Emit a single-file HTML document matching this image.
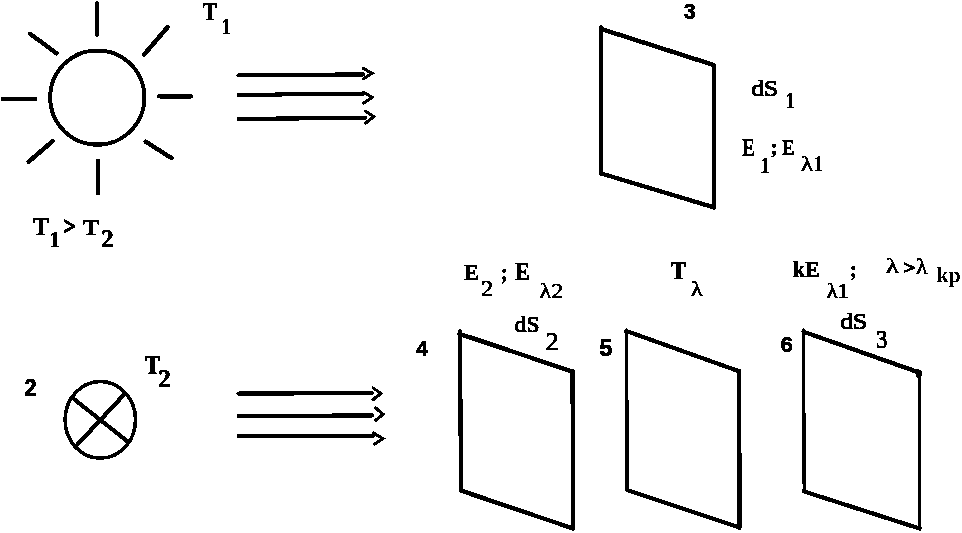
<!DOCTYPE html>
<html><head><meta charset="utf-8"><style>
html,body{margin:0;padding:0;background:#fff;width:962px;height:533px;overflow:hidden}
svg{display:block}
text{font-size:100px;stroke:#000;fill:#000}
.s{font-family:"Liberation Serif",serif;font-weight:bold}
.r{font-family:"Liberation Serif",serif;font-weight:normal}
.a{font-family:"Liberation Sans",sans-serif;font-weight:bold}
.ar{font-family:"Liberation Sans",sans-serif;font-weight:normal}
</style></head><body>
<svg width="962" height="533" viewBox="0 0 962 533">
<defs><filter id="bin" x="0" y="0" width="100%" height="100%" color-interpolation-filters="sRGB">
<feColorMatrix type="matrix" values="0.299 0.587 0.114 0 0  0.299 0.587 0.114 0 0  0.299 0.587 0.114 0 0  0 0 0 1 0"/>
<feComponentTransfer><feFuncR type="discrete" tableValues="0 1"/><feFuncG type="discrete" tableValues="0 1"/><feFuncB type="discrete" tableValues="0 1"/></feComponentTransfer>
</filter></defs>
<rect width="962" height="533" fill="#fff"/>
<g filter="url(#bin)">
<rect width="962" height="533" fill="#fff"/>
<g fill="none" stroke="#000" stroke-linecap="round">
<circle cx="97.3" cy="97.5" r="47.1" stroke-width="4"/>
<line x1="97" y1="3.2" x2="97" y2="34.5" stroke-width="4.5"/>
<line x1="30" y1="33.8" x2="56.5" y2="53.3" stroke-width="4.5"/>
<line x1="144" y1="54.8" x2="167.5" y2="27.2" stroke-width="4.5"/>
<line x1="159.2" y1="96.3" x2="191" y2="96.3" stroke-width="4.5"/>
<line x1="145.6" y1="141.6" x2="171.6" y2="158.2" stroke-width="4.5"/>
<line x1="98" y1="161" x2="98" y2="193" stroke-width="4.5"/>
<line x1="28.6" y1="161.7" x2="52.8" y2="141" stroke-width="4.5"/>
<line x1="2.9" y1="99" x2="34.9" y2="99" stroke-width="4.5"/>
<line x1="238.5" y1="75.4" x2="363" y2="74.4" stroke-width="4.2"/><polyline points="363.5,68.5 372,73.3 363,79" stroke-width="3.1" fill="none" stroke-linejoin="miter"/>
<line x1="238.5" y1="94.9" x2="363" y2="93.7" stroke-width="4.2"/><polyline points="364,92.5 372,97.4 363.5,103.3" stroke-width="3.1" fill="none" stroke-linejoin="miter"/>
<line x1="238.5" y1="119" x2="365" y2="117.7" stroke-width="4.2"/><polyline points="365.5,111.2 373.8,116.7 365.5,123.2" stroke-width="3.1" fill="none" stroke-linejoin="miter"/>
<line x1="238.5" y1="393.7" x2="372" y2="393" stroke-width="4.2"/><polyline points="373,388 381,393.3 373,399.8" stroke-width="3.1" fill="none" stroke-linejoin="miter"/>
<line x1="238.5" y1="416.2" x2="372" y2="415.3" stroke-width="4.2"/><polyline points="375.8,408 383,414.2 375.8,420.2" stroke-width="3.1" fill="none" stroke-linejoin="miter"/>
<line x1="238.5" y1="436" x2="373" y2="436" stroke-width="4.2"/><polyline points="373.5,433 383,438.6 374.5,444.2" stroke-width="3.1" fill="none" stroke-linejoin="miter"/>
<polyline points="600.9,27 601.2,173.5" stroke-width="4.0" fill="none" stroke-linejoin="round"/><polyline points="714,65.5 714,207.3" stroke-width="4.2" fill="none" stroke-linejoin="round"/><polyline points="601,28.8 712.5,64.6 714,66" stroke-width="4.4" fill="none" stroke-linejoin="round"/><polyline points="601.2,173.5 714,207.4" stroke-width="4.4" fill="none" stroke-linejoin="round"/>
<polyline points="459.8,331.3 461.1,490.2" stroke-width="4.3" fill="none" stroke-linejoin="round"/><polyline points="572.5,371.3 573,528" stroke-width="4.2" fill="none" stroke-linejoin="round"/><polyline points="459.5,333.8 572.5,371.6" stroke-width="4.4" fill="none" stroke-linejoin="round"/><polyline points="461.1,490.6 573,528.5" stroke-width="4.4" fill="none" stroke-linejoin="round"/>
<polyline points="626.4,330 627.1,490" stroke-width="3.6" fill="none" stroke-linejoin="round"/><polyline points="739.1,371 739.5,527.5" stroke-width="4.4" fill="none" stroke-linejoin="round"/><polyline points="626.3,331 739.1,371.2" stroke-width="4.2" fill="none" stroke-linejoin="round"/><polyline points="627.3,490 739.3,527.5" stroke-width="4.2" fill="none" stroke-linejoin="round"/>
<polyline points="803.5,330 804.2,491.5" stroke-width="3.3" fill="none" stroke-linejoin="round"/><polyline points="919.5,372.6 919.6,528.5" stroke-width="3.3" fill="none" stroke-linejoin="round"/><polyline points="803.6,331.8 919.4,372.6" stroke-width="4.3" fill="none" stroke-linejoin="round"/><polyline points="804.2,491.5 919.5,528.5" stroke-width="4.3" fill="none" stroke-linejoin="round"/>
<ellipse cx="918.7" cy="373.8" rx="3.1" ry="4.2" fill="#000" stroke="none"/>
<ellipse cx="100.3" cy="419.9" rx="35.2" ry="38.4" stroke-width="3.6" fill="none"/>
<line x1="74.3" y1="399.3" x2="126.8" y2="440.8" stroke-width="4.2"/>
<line x1="123.2" y1="395.5" x2="77.2" y2="444.8" stroke-width="4.2"/>
</g>
<g>
<text class="s" stroke-width="2.5" transform="matrix(0.2152 0 0 0.2507 202.79 19.52)">T</text>
<text class="s" stroke-width="2.5" transform="matrix(0.1795 0 0 0.2338 221.64 33.57)">1</text>
<text class="s" stroke-width="2.5" transform="matrix(0.2364 0 0 0.2456 32.88 235.13)">T</text>
<text class="s" stroke-width="2.5" transform="matrix(0.2000 0 0 0.2368 49.80 246.66)">1</text>
<text class="s" stroke-width="7" transform="matrix(0.2037 0 0 0.2393 63.89 234.30)">></text>
<text class="s" stroke-width="2.5" transform="matrix(0.2439 0 0 0.2382 82.78 234.64)">T</text>
<text class="s" stroke-width="2.5" transform="matrix(0.2477 0 0 0.2515 101.36 246.65)">2</text>
<text class="a" stroke-width="3" transform="matrix(0.2075 0 0 0.2176 683.90 19.46)">3</text>
<text class="r" stroke-width="5" transform="matrix(0.2515 0 0 0.2253 751.55 96.11)">dS</text>
<text class="s" stroke-width="2.5" transform="matrix(0.1821 0 0 0.2309 785.63 107.57)">1</text>
<text class="s" stroke-width="2.5" transform="matrix(0.1936 0 0 0.2474 741.90 155.55)">E</text>
<text class="s" stroke-width="2.5" transform="matrix(0.1949 0 0 0.2324 760.34 173.47)">1</text>
<text class="s" stroke-width="2.5" transform="matrix(0.2178 0 0 0.2138 770.53 154.26)">;</text>
<text class="s" stroke-width="2.5" transform="matrix(0.1872 0 0 0.2370 782.11 154.76)">E</text>
<text class="r" stroke-width="3" transform="matrix(0.2474 0 0 0.2190 800.95 171.16)">λ</text>
<text class="s" stroke-width="0" transform="matrix(0.1838 0 0 0.2214 813.73 170.50)">1</text>
<text class="s" stroke-width="2.5" transform="matrix(0.2192 0 0 0.2400 464.29 280.36)">E</text>
<text class="r" stroke-width="3" transform="matrix(0.2419 0 0 0.2261 481.07 296.46)">2</text>
<text class="s" stroke-width="2.5" transform="matrix(0.1911 0 0 0.2338 501.04 279.72)">;</text>
<text class="s" stroke-width="2.5" transform="matrix(0.2256 0 0 0.2593 514.99 280.34)">E</text>
<text class="r" stroke-width="3" transform="matrix(0.2428 0 0 0.2150 539.56 297.57)">λ2</text>
<text class="s" stroke-width="2.5" transform="matrix(0.2303 0 0 0.2485 670.68 278.53)">T</text>
<text class="r" stroke-width="3" transform="matrix(0.2454 0 0 0.2041 690.85 295.69)">λ</text>
<text class="s" stroke-width="2.5" transform="matrix(0.2196 0 0 0.2294 792.78 277.16)">kE</text>
<text class="r" stroke-width="3.5" transform="matrix(0.2226 0 0 0.2150 826.78 298.47)">λ1</text>
<text class="s" stroke-width="2.5" transform="matrix(0.2000 0 0 0.2385 849.90 276.75)">;</text>
<text class="r" stroke-width="3" transform="matrix(0.2598 0 0 0.2109 886.04 273.38)">λ</text>
<text class="s" stroke-width="6" transform="matrix(0.2152 0 0 0.1831 903.17 274.44)">></text>
<text class="r" stroke-width="3" transform="matrix(0.2351 0 0 0.2231 916.06 274.25)">λ</text>
<text class="s" stroke-width="0" transform="matrix(0.2201 0 0 0.2089 936.35 281.61)">kp</text>
<text class="a" stroke-width="3" transform="matrix(0.2159 0 0 0.2236 415.90 355.56)">4</text>
<text class="r" stroke-width="5" transform="matrix(0.2337 0 0 0.2373 514.77 332.17)">dS</text>
<text class="r" stroke-width="3" transform="matrix(0.2721 0 0 0.2594 545.18 349.51)">2</text>
<text class="a" stroke-width="3" transform="matrix(0.2321 0 0 0.2342 599.55 356.31)">5</text>
<text class="a" stroke-width="3" transform="matrix(0.2214 0 0 0.2284 780.46 352.23)">6</text>
<text class="r" stroke-width="4.5" transform="matrix(0.2520 0 0 0.2215 840.42 329.14)">dS</text>
<text class="r" stroke-width="3" transform="matrix(0.2318 0 0 0.2529 875.99 348.07)">3</text>
<text class="a" stroke-width="3" transform="matrix(0.2176 0 0 0.2342 24.56 395.65)">2</text>
<text class="s" stroke-width="2.5" transform="matrix(0.2273 0 0 0.2632 144.99 374.41)">T</text>
<text class="s" stroke-width="2.5" transform="matrix(0.2523 0 0 0.2618 158.14 386.64)">2</text>
</g>
</g>
</svg>
</body></html>
